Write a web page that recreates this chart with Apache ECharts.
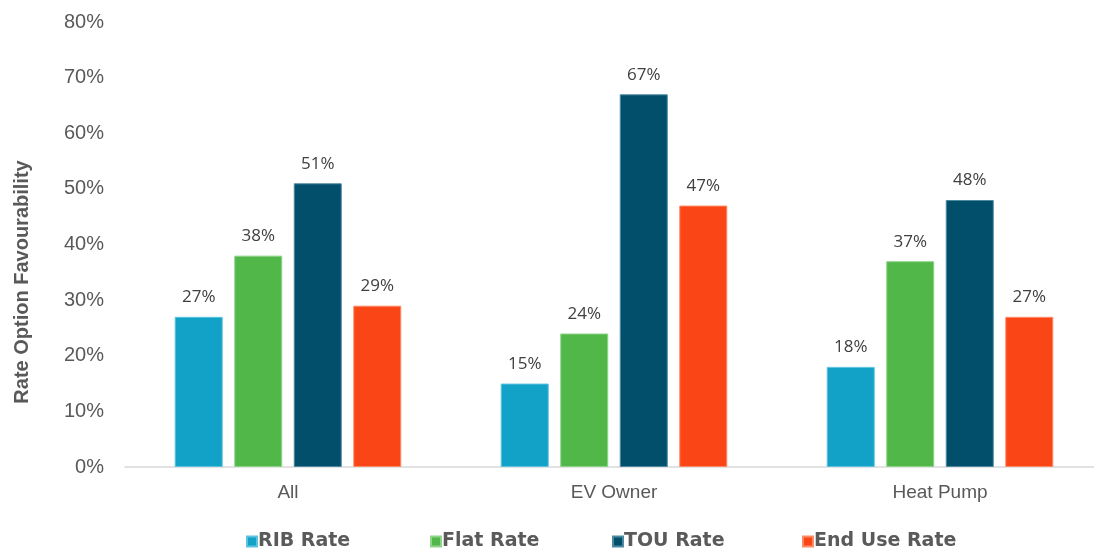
<!DOCTYPE html>
<html>
<head>
<meta charset="utf-8">
<script src="https://cdn.jsdelivr.net/npm/echarts@6/dist/echarts.min.js"></script>
<style>
  html, body { margin: 0; padding: 0; background: #ffffff; overflow: hidden; }
  /* canvas is a little wider than the page so the plot runs off the right edge */
  #chart { width: 1103px; height: 548px; }
</style>
</head>
<body>
<div id="chart"></div>
<script>
// Share of respondents favouring each rate option, by customer group (%)
const categories = ['All', 'EV Owner', 'Heat Pump'];
const seriesNames = ['RIB Rate', 'Flat Rate', 'TOU Rate', 'End Use Rate'];
const ribRate = [27, 15, 18];
const flatRate = [38, 24, 37];
const touRate = [51, 67, 48];
const endUseRate = [29, 47, 27];
const yTicks = { min: 0, max: 80, interval: 10 };

const colors = ['#12a1c7', '#50b748', '#024f6b', '#fa4616'];
const borders = ['#5cc3de', '#8fd488', '#4d8aa1', '#fd8a66'];
const values = [ribRate, flatRate, touRate, endUseRate];

const chart = echarts.init(document.getElementById('chart'), null, { renderer: 'canvas' });

const legendLefts = [246, 430, 612, 802];

const option = {
  animation: false,
  backgroundColor: '#ffffff',
  grid: { left: 125, right: 0, top: 22, bottom: 81, containLabel: false },
  legend: seriesNames.map((name, i) => ({
    data: [name],
    left: legendLefts[i],
    top: 532,
    itemWidth: 10,
    itemHeight: 10,
    itemGap: 0,
    icon: 'rect',
    padding: 0,
    textStyle: {
      fontFamily: 'DejaVu Sans',
      fontWeight: 'bold',
      fontSize: 19,
      color: '#5a5a5a',
      padding: [0, 0, 0, -4]
    }
  })),
  xAxis: {
    type: 'category',
    data: categories,
    axisLine: { show: true, lineStyle: { color: '#d9d9d9', width: 1.5 } },
    axisTick: { show: false },
    axisLabel: {
      margin: 16,
      fontFamily: 'Liberation Sans',
      fontSize: 19,
      color: '#595959'
    }
  },
  yAxis: {
    type: 'value',
    min: yTicks.min,
    max: yTicks.max,
    interval: yTicks.interval,
    axisLine: { show: false },
    axisTick: { show: false },
    splitLine: { show: false },
    axisLabel: {
      margin: 21,
      fontFamily: 'Liberation Sans',
      fontSize: 20,
      color: '#595959',
      formatter: '{value}%'
    }
  },
  graphic: [{
    type: 'text',
    x: 22,
    y: 282,
    rotation: Math.PI / 2,
    style: {
      text: 'Rate Option Favourability',
      fontFamily: 'Liberation Sans',
      fontWeight: 'bold',
      fontSize: 20,
      fill: '#595959',
      align: 'center',
      verticalAlign: 'middle'
    }
  }],
  series: seriesNames.map((name, i) => ({
    name: name,
    type: 'bar',
    data: values[i],
    barWidth: 48,
    barGap: '24%',
    itemStyle: { color: colors[i], borderColor: borders[i], borderWidth: 1 },
    label: {
      show: true,
      position: 'top',
      distance: 11,
      fontFamily: 'Open Sans',
      fontSize: 17,
      color: '#404040',
      formatter: p => p.value + '%'
    }
  }))
};

chart.setOption(option);
</script>
</body>
</html>
